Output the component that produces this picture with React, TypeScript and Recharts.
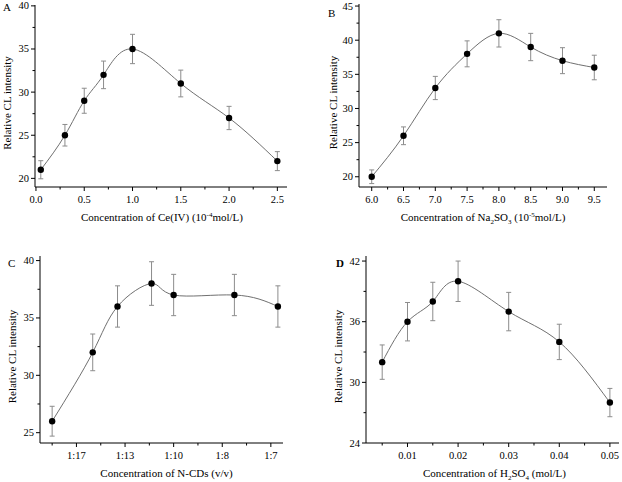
import React from "react";
import { ComposedChart, Line, XAxis, YAxis, ErrorBar, Label } from "recharts";

const FONT = '"Liberation Serif", "Times New Roman", serif';

// A: Ce(IV)
const ceConc = [0.05, 0.3, 0.5, 0.7, 1.0, 1.5, 2.0, 2.5];
const ceCL = [21, 25, 29, 32, 35, 31, 27, 22];
const ceErr = [1.05, 1.25, 1.45, 1.6, 1.7, 1.55, 1.35, 1.1];
const ceXMajor = [0, 0.5, 1.0, 1.5, 2.0, 2.5];
const ceXMinor = [0.25, 0.75, 1.25, 1.75, 2.25];
const ceYMajor = [20, 25, 30, 35, 40];
const ceYMinor = [22.5, 27.5, 32.5, 37.5];

// B: Na2SO3
const naConc = [6.0, 6.5, 7.0, 7.5, 8.0, 8.5, 9.0, 9.5];
const naCL = [20, 26, 33, 38, 41, 39, 37, 36];
const naErr = [1.0, 1.3, 1.7, 1.9, 2.0, 2.0, 1.9, 1.8];
const naXMajor = [6.0, 6.5, 7.0, 7.5, 8.0, 8.5, 9.0, 9.5];
const naXMinor = [6.25, 6.75, 7.25, 7.75, 8.25, 8.75, 9.25];
const naYMajor = [20, 25, 30, 35, 40, 45];
const naYMinor = [22.5, 27.5, 32.5, 37.5, 42.5];

// C: N-CDs (v/v)
const cdRatio = [0.05, 0.0667, 0.0769, 0.0909, 0.1, 0.125, 0.1429];
const cdCL = [26, 32, 36, 38, 37, 37, 36];
const cdErr = [1.3, 1.6, 1.8, 1.9, 1.8, 1.8, 1.8];
const cdXMajor = [0.06, 0.08, 0.1, 0.12, 0.14];
const cdXLabels = ["1:17", "1:13", "1:10", "1:8", "1:7"];
const cdXMinor = [0.05, 0.07, 0.09, 0.11, 0.13];
const cdYMajor = [25, 30, 35, 40];
const cdYMinor = [27.5, 32.5, 37.5];

// D: H2SO4
const hsConc = [0.005, 0.01, 0.015, 0.02, 0.03, 0.04, 0.05];
const hsCL = [32, 36, 38, 40, 37, 34, 28];
const hsErr = [1.7, 1.9, 1.9, 2.0, 1.9, 1.75, 1.4];
const hsXMajor = [0.01, 0.02, 0.03, 0.04, 0.05];
const hsXMinor = [0.005, 0.015, 0.025, 0.035, 0.045];
const hsYMajor = [24, 30, 36, 42];
const hsYMinor = [27, 33, 39];

// axis titles: [text, "sup" | "sub" | undefined]
type Seg = [string, ("sup" | "sub")?];
const ceTitle: Seg[] = [["Concentration of Ce(IV) (10"], ["-4", "sup"], ["mol/L)"]];
const naTitle: Seg[] = [
  ["Concentration of Na"], ["2", "sub"], ["SO"], ["3", "sub"], [" (10"], ["-5", "sup"], ["mol/L)"],
];
const cdTitle: Seg[] = [["Concentration of N-CDs (v/v)"]];
const hsTitle: Seg[] = [["Concentration of H"], ["2", "sub"], ["SO"], ["4", "sub"], [" (mol/L)"]];

const rows = (xs: number[], ys: number[], es: number[]) =>
  xs.map((x, i) => ({ x, y: ys[i], err: es[i] }));

function segs(parts: Seg[]) {
  let shift = 0;
  return parts.map(([t, kind], i) => {
    const target = kind === "sup" ? -4 : kind === "sub" ? 3 : 0;
    const dy = target - shift;
    shift = target;
    return (
      <tspan key={i} dy={dy} fontSize={kind ? 7 : 11}>
        {t}
      </tspan>
    );
  });
}

function XTick(props: any) {
  const { x, y, payload, majors, fmt } = props;
  const idx = majors.indexOf(payload.value);
  const major = idx >= 0;
  return (
    <g>
      <line x1={x} x2={x} y1={y} y2={y + (major ? 4 : 2.5)} stroke="#000" strokeWidth={1} />
      {major && (
        <text x={x} y={y + 16} textAnchor="middle" fontSize={10.5} fontFamily={FONT} fill="#000">
          {fmt(payload.value, idx)}
        </text>
      )}
    </g>
  );
}

function YTick(props: any) {
  const { x, y, payload, majors } = props;
  const major = majors.includes(payload.value);
  return (
    <g>
      <line x1={x} x2={x - (major ? 4 : 2.5)} y1={y} y2={y} stroke="#000" strokeWidth={1} />
      {major && (
        <text x={x - 6} y={y + 3.5} textAnchor="end" fontSize={10.5} fontFamily={FONT} fill="#000">
          {payload.value}
        </text>
      )}
    </g>
  );
}

type PanelProps = {
  data: { x: number; y: number; err: number }[];
  letter: string;
  letterPos: [number, number];
  letterBold?: boolean;
  xDomain: [number, number];
  yDomain: [number, number];
  xMajor: number[];
  xMinor: number[];
  yMajor: number[];
  yMinor: number[];
  fmt: (v: number, i: number) => string;
  margin: { top: number; right: number; left: number; bottom: number };
  yWidth: number;
  xHeight: number;
  xTitle: Seg[];
  xTitleDx: number;
  yTitleX: number;
};

function Panel(p: PanelProps) {
  const xTitle = (lp: any) => {
    const vb = lp.viewBox;
    return (
      <text
        x={vb.x + vb.width / 2 + p.xTitleDx}
        y={vb.y + 34}
        textAnchor="middle"
        fontSize={11}
        fontFamily={FONT}
        fill="#000"
      >
        {segs(p.xTitle)}
      </text>
    );
  };
  const yTitle = (lp: any) => {
    const vb = lp.viewBox;
    const cy = vb.y + vb.height / 2 + 7;
    return (
      <text
        x={p.yTitleX}
        y={cy}
        transform={`rotate(-90 ${p.yTitleX} ${cy})`}
        textAnchor="middle"
        dominantBaseline="central"
        fontSize={11}
        fontFamily={FONT}
        fill="#000"
      >
        Relative CL intensity
      </text>
    );
  };
  return (
    <div style={{ position: "relative", width: 311, height: 241 }}>
      <ComposedChart width={311} height={241} data={p.data} margin={p.margin}>
        <XAxis
          dataKey="x"
          type="number"
          domain={p.xDomain}
          ticks={[...p.xMajor, ...p.xMinor].sort((a, b) => a - b)}
          interval={0}
          tickSize={0}
          tickMargin={0}
          tickLine={false}
          height={p.xHeight}
          axisLine={{ stroke: "#000", strokeWidth: 1 }}
          tick={(tp: any) => <XTick {...tp} majors={p.xMajor} fmt={p.fmt} />}
        >
          <Label content={xTitle} />
        </XAxis>
        <YAxis
          type="number"
          domain={p.yDomain}
          ticks={[...p.yMajor, ...p.yMinor].sort((a, b) => a - b)}
          interval={0}
          tickSize={0}
          tickMargin={0}
          tickLine={false}
          width={p.yWidth}
          axisLine={{ stroke: "#000", strokeWidth: 1 }}
          tick={(tp: any) => <YTick {...tp} majors={p.yMajor} />}
        >
          <Label content={yTitle} />
        </YAxis>
        <Line
          dataKey="y"
          type="natural"
          stroke="#707070"
          strokeWidth={1}
          dot={{ r: 3.2, fill: "#000", stroke: "#000", strokeWidth: 0 }}
          activeDot={false}
          isAnimationActive={false}
        >
          <ErrorBar dataKey="err" direction="y" width={2.5} stroke="#8c8c8c" strokeWidth={1} />
        </Line>
      </ComposedChart>
      <div
        style={{
          position: "absolute",
          left: p.letterPos[0],
          top: p.letterPos[1],
          fontFamily: FONT,
          fontSize: 11,
          fontWeight: p.letterBold ? "bold" : "normal",
          lineHeight: "11px",
        }}
      >
        {p.letter}
      </div>
    </div>
  );
}

export default function App() {
  return (
    <div
      style={{
        position: "absolute",
        left: 0,
        top: 0,
        width: 622,
        height: 482,
        background: "#fff",
        display: "grid",
        gridTemplateColumns: "311px 311px",
        gridTemplateRows: "241px 241px",
      }}
    >
      <Panel
        data={rows(ceConc, ceCL, ceErr)}
        letter="A"
        letterPos={[3, 2]}
        xDomain={[-0.01, 2.6]}
        yDomain={[19, 40.1]}
        xMajor={ceXMajor}
        xMinor={ceXMinor}
        yMajor={ceYMajor}
        yMinor={ceYMinor}
        fmt={(v) => v.toFixed(1)}
        margin={{ top: 5, right: 24, left: 0, bottom: 0 }}
        yWidth={35}
        xHeight={54}
        xTitle={ceTitle}
        xTitleDx={1}
        yTitleX={7}
      />
      <Panel
        data={rows(naConc, naCL, naErr)}
        letter="B"
        letterPos={[17, 8]}
        xDomain={[5.8, 9.7]}
        yDomain={[18.5, 45.3]}
        xMajor={naXMajor}
        xMinor={naXMinor}
        yMajor={naYMajor}
        yMinor={naYMinor}
        fmt={(v) => v.toFixed(1)}
        margin={{ top: 4, right: 15, left: 0, bottom: 0 }}
        yWidth={48}
        xHeight={54}
        xTitle={naTitle}
        xTitleDx={0}
        yTitleX={22}
      />
      <Panel
        data={rows(cdRatio, cdCL, cdErr)}
        letter="C"
        letterPos={[8, 17]}
        xDomain={[0.045, 0.145]}
        yDomain={[24.1, 40.4]}
        xMajor={cdXMajor}
        xMinor={cdXMinor}
        yMajor={cdYMajor}
        yMinor={cdYMinor}
        fmt={(_v, i) => cdXLabels[i]}
        margin={{ top: 15, right: 28, left: 0, bottom: 0 }}
        yWidth={40}
        xHeight={39}
        xTitle={cdTitle}
        xTitleDx={5}
        yTitleX={12}
      />
      <Panel
        data={rows(hsConc, hsCL, hsErr)}
        letter="D"
        letterPos={[25, 17]}
        letterBold
        xDomain={[0.0018, 0.0518]}
        yDomain={[24, 42.5]}
        xMajor={hsXMajor}
        xMinor={hsXMinor}
        yMajor={hsYMajor}
        yMinor={hsYMinor}
        fmt={(v) => v.toFixed(2)}
        margin={{ top: 15, right: 3, left: 0, bottom: 0 }}
        yWidth={55}
        xHeight={39}
        xTitle={hsTitle}
        xTitleDx={2}
        yTitleX={27}
      />
    </div>
  );
}
